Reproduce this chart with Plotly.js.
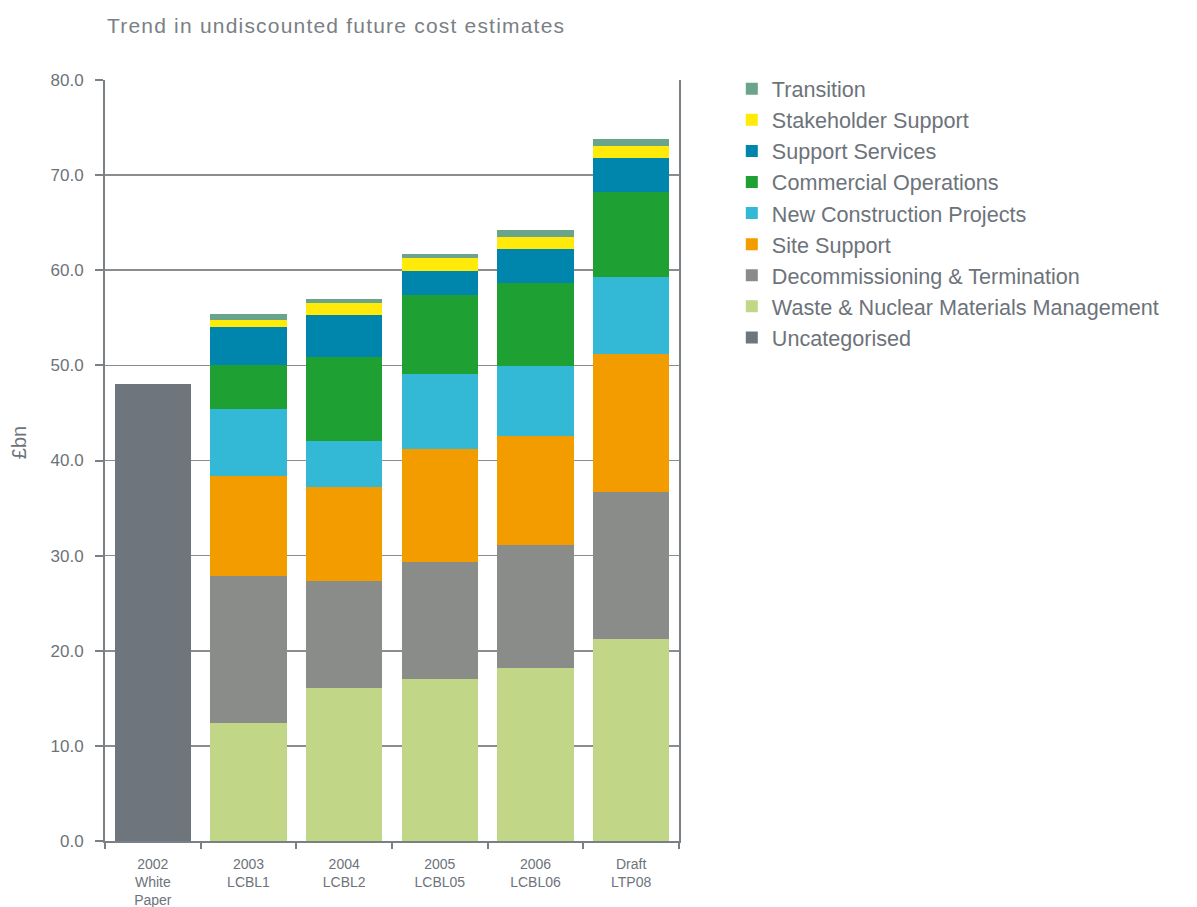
<!DOCTYPE html>
<html>
<head>
<meta charset="utf-8">
<script src="https://cdn.plot.ly/plotly-3.0.1.min.js"></script>
<style>
html,body{margin:0;padding:0;background:#fff;}
#chart{width:1197px;height:907px;}
#chart .gtitle{letter-spacing:1.2px;}
</style>
</head>
<body>
<div id="chart"></div>
<script>
const categories = ["2002<br>White<br>Paper", "2003<br>LCBL1", "2004<br>LCBL2", "2005<br>LCBL05", "2006<br>LCBL06", "Draft<br>LTP08"];

const uncategorised = [48.0, 0, 0, 0, 0, 0];
const wasteNuclear = [0, 12.4, 16.1, 17.0, 18.2, 21.2];
const decommissioning = [0, 15.5, 11.2, 12.3, 12.9, 15.5];
const siteSupport = [0, 10.5, 9.9, 11.9, 11.5, 14.5];
const newConstruction = [0, 7.0, 4.8, 7.9, 7.3, 8.1];
const commercialOps = [0, 4.6, 8.9, 8.3, 8.8, 8.9];
const supportServices = [0, 4.0, 4.4, 2.5, 3.5, 3.6];
const stakeholderSupport = [0, 0.8, 1.3, 1.4, 1.3, 1.3];
const transition = [0, 0.6, 0.4, 0.4, 0.7, 0.7];

const seriesNames = ["Uncategorised", "Waste & Nuclear Materials Management", "Decommissioning & Termination", "Site Support", "New Construction Projects", "Commercial Operations", "Support Services", "Stakeholder Support", "Transition"];
const seriesValues = [uncategorised, wasteNuclear, decommissioning, siteSupport, newConstruction, commercialOps, supportServices, stakeholderSupport, transition];
const seriesColors = ["#6e757c", "#c1d686", "#8a8c89", "#f39c00", "#33b9d6", "#1fa033", "#0085ad", "#ffea0a", "#6aa48a"];

const textColor = "#6d737a";
const axisColor = "#7b8085";
const fontFamily = "'Liberation Sans', Arial, sans-serif";

const traces = seriesNames.map((name, i) => ({
  type: "bar",
  name: name,
  x: categories,
  y: seriesValues[i],
  marker: {color: seriesColors[i], line: {width: 0}},
  hoverinfo: "name+y"
}));

const layout = {
  width: 1197,
  height: 907,
  barmode: "stack",
  bargap: 0.2,
  paper_bgcolor: "#ffffff",
  plot_bgcolor: "#ffffff",
  margin: {l: 105, r: 518, t: 80, b: 66, pad: 0},
  font: {family: fontFamily, color: textColor},
  title: {
    text: "Trend in undiscounted future cost estimates",
    font: {size: 21, color: "#7a8085", family: fontFamily},
    x: 0.0035, xref: "paper", xanchor: "left",
    y: 0.972, yref: "container", yanchor: "middle"
  },
  xaxis: {
    type: "category",
    showgrid: false,
    showline: true,
    linecolor: axisColor,
    linewidth: 2,
    ticks: "outside",
    tickson: "boundaries",
    ticklen: 6,
    tickwidth: 2,
    tickcolor: axisColor,
    tickfont: {size: 14, color: textColor, family: fontFamily},
    ticklabelstandoff: 9,
    mirror: false,
    fixedrange: true
  },
  yaxis: {
    range: [0, 80],
    dtick: 10,
    tickformat: ".1f",
    showgrid: true,
    gridcolor: "#8a8d8f",
    gridwidth: 1.6,
    showline: true,
    linecolor: axisColor,
    linewidth: 2,
    mirror: true,
    ticks: "outside",
    ticklen: 8,
    tickwidth: 2,
    tickcolor: axisColor,
    tickfont: {size: 17, color: textColor},
    ticklabelstandoff: 8,
    zeroline: false,
    fixedrange: true
  },
  legend: {
    x: 1.092, xanchor: "left",
    y: 1.0155, yanchor: "top",
    traceorder: "reversed",
    font: {size: 21.6, color: textColor, family: fontFamily},
    tracegroupgap: 0,
    bgcolor: "rgba(0,0,0,0)"
  },
  annotations: [{
    x: -0.15, xref: "paper", xanchor: "center",
    y: 0.524, yref: "paper", yanchor: "middle",
    text: "£bn", textangle: -90, showarrow: false,
    font: {size: 20, color: textColor, family: fontFamily}
  }],
  showlegend: true
};

Plotly.newPlot("chart", traces, layout, {displayModeBar: false, staticPlot: true});
</script>
</body>
</html>
